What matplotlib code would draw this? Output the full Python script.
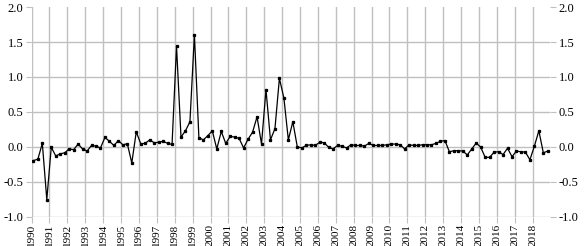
import numpy as np
import matplotlib
matplotlib.use("Agg")
import matplotlib.pyplot as plt

plt.rcParams['font.family'] = ['Liberation Serif', 'DejaVu Serif']

# quarterly values, 1990Q1 .. 2018Q4
years = list(range(1990, 2019))
values = [
    -0.196, -0.176, 0.05, -0.755,   # 1990
    -0.005, -0.13, -0.10, -0.085,   # 1991
    -0.03, -0.04, 0.04, -0.03,      # 1992
    -0.06, 0.02, 0.01, -0.015,      # 1993
    0.135, 0.08, 0.02, 0.09,        # 1994
    0.03, 0.045, -0.23, 0.215,      # 1995
    0.045, 0.05, 0.10, 0.06,        # 1996
    0.065, 0.08, 0.05, 0.035,       # 1997
    1.44, 0.14, 0.23, 0.36,         # 1998
    1.605, 0.13, 0.10, 0.16,        # 1999
    0.23, -0.03, 0.22, 0.05,        # 2000
    0.15, 0.14, 0.12, -0.015,       # 2001
    0.11, 0.21, 0.43, 0.04,         # 2002
    0.82, 0.10, 0.26, 0.98,         # 2003
    0.70, 0.10, 0.36, 0.0,          # 2004
    -0.015, 0.02, 0.03, 0.02,       # 2005
    0.065, 0.06, -0.005, -0.03,     # 2006
    0.02, 0.01, -0.015, 0.03,       # 2007
    0.02, 0.02, 0.01, 0.05,         # 2008
    0.02, 0.02, 0.02, 0.03,         # 2009
    0.04, 0.04, 0.03, -0.03,        # 2010
    0.03, 0.02, 0.02, 0.03,         # 2011
    0.03, 0.03, 0.05, 0.08,         # 2012
    0.09, -0.07, -0.055, -0.055,    # 2013
    -0.06, -0.115, -0.03, 0.055,    # 2014
    -0.005, -0.15, -0.15, -0.075,   # 2015
    -0.07, -0.11, -0.02, -0.14,     # 2016
    -0.06, -0.07, -0.075, -0.185,   # 2017
    0.01, 0.23, -0.085, -0.06,      # 2018
]
yticks = [-1.0, -0.5, 0.0, 0.5, 1.0, 1.5, 2.0]

# quarter positions (points sit a little right of the year line)
t = np.array([y + q / 4 + 0.1 for y in years for q in range(4)])

fig = plt.figure(figsize=(5.85, 2.46), dpi=100)
ax = fig.add_axes([0.054, 0.119, 0.887, 0.852])

grey = "#c0c0c0"
for yr in years:
    ax.axvline(yr, color=grey, lw=1, zorder=1)
for v in yticks[:-1]:
    ax.axhline(v, color=grey, lw=1, zorder=1)

ax.plot(t, values, color="black", lw=0.9, marker="s", ms=1.4, zorder=3)

ax.set_xlim(1990, 2019)
ax.set_ylim(-1.0, 2.0)
ax.set_xticks(years)
ax.set_xticklabels([str(y) for y in years], rotation=90, fontsize=8)
ax.set_yticks(yticks)
ax.set_yticklabels(["%.1f" % v for v in yticks], fontsize=9)

for s in ax.spines.values():
    s.set_visible(False)
ax.tick_params(axis="x", length=4, color=grey, pad=1)
ax.tick_params(axis="y", length=4, color=grey, pad=2,
               left=True, right=True, labelleft=True, labelright=True)

fig.savefig("out.png", dpi=100)
